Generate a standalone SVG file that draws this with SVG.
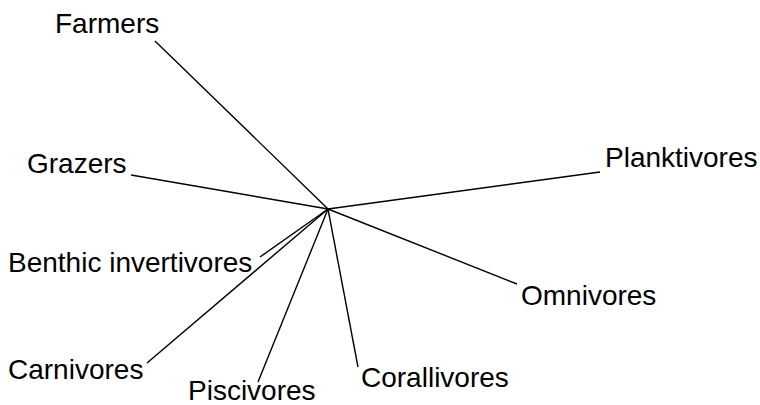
<svg xmlns="http://www.w3.org/2000/svg" width="760" height="405" viewBox="0 0 760 405">
  <style>
    .edge { stroke: #000; stroke-width: 1.4; fill: none; }
    .lbl { font-family: "Liberation Sans", Arial, sans-serif; font-size: 28px; fill: #000; }
  </style>
  <rect width="760" height="405" fill="#fff"/>
  <!-- unrooted star tree: every branch runs from the hub at (328,209) -->
  <g id="connectors">
    <line class="edge" x1="328" y1="209" x2="155" y2="41"/>
    <line class="edge" x1="328" y1="209" x2="131" y2="175"/>
    <line class="edge" x1="328" y1="209" x2="600" y2="172"/>
    <line class="edge" x1="328" y1="209" x2="517" y2="284"/>
    <line class="edge" x1="328" y1="209" x2="260" y2="257"/>
    <line class="edge" x1="328" y1="209" x2="147" y2="363"/>
    <line class="edge" x1="328" y1="209" x2="258" y2="382"/>
    <line class="edge" x1="328" y1="209" x2="358" y2="367"/>
  </g>
  <g id="farmers"><text class="lbl" x="55" y="33">Farmers</text></g>
  <g id="grazers"><text class="lbl" x="27" y="173">Grazers</text></g>
  <g id="planktivores"><text class="lbl" x="605" y="167">Planktivores</text></g>
  <g id="benthic-invertivores"><text class="lbl" x="8" y="272">Benthic invertivores</text></g>
  <g id="omnivores"><text class="lbl" x="521" y="305">Omnivores</text></g>
  <g id="carnivores"><text class="lbl" x="8" y="379">Carnivores</text></g>
  <g id="piscivores"><text class="lbl" x="188" y="400">Piscivores</text></g>
  <g id="corallivores"><text class="lbl" x="361" y="387">Corallivores</text></g>
</svg>
